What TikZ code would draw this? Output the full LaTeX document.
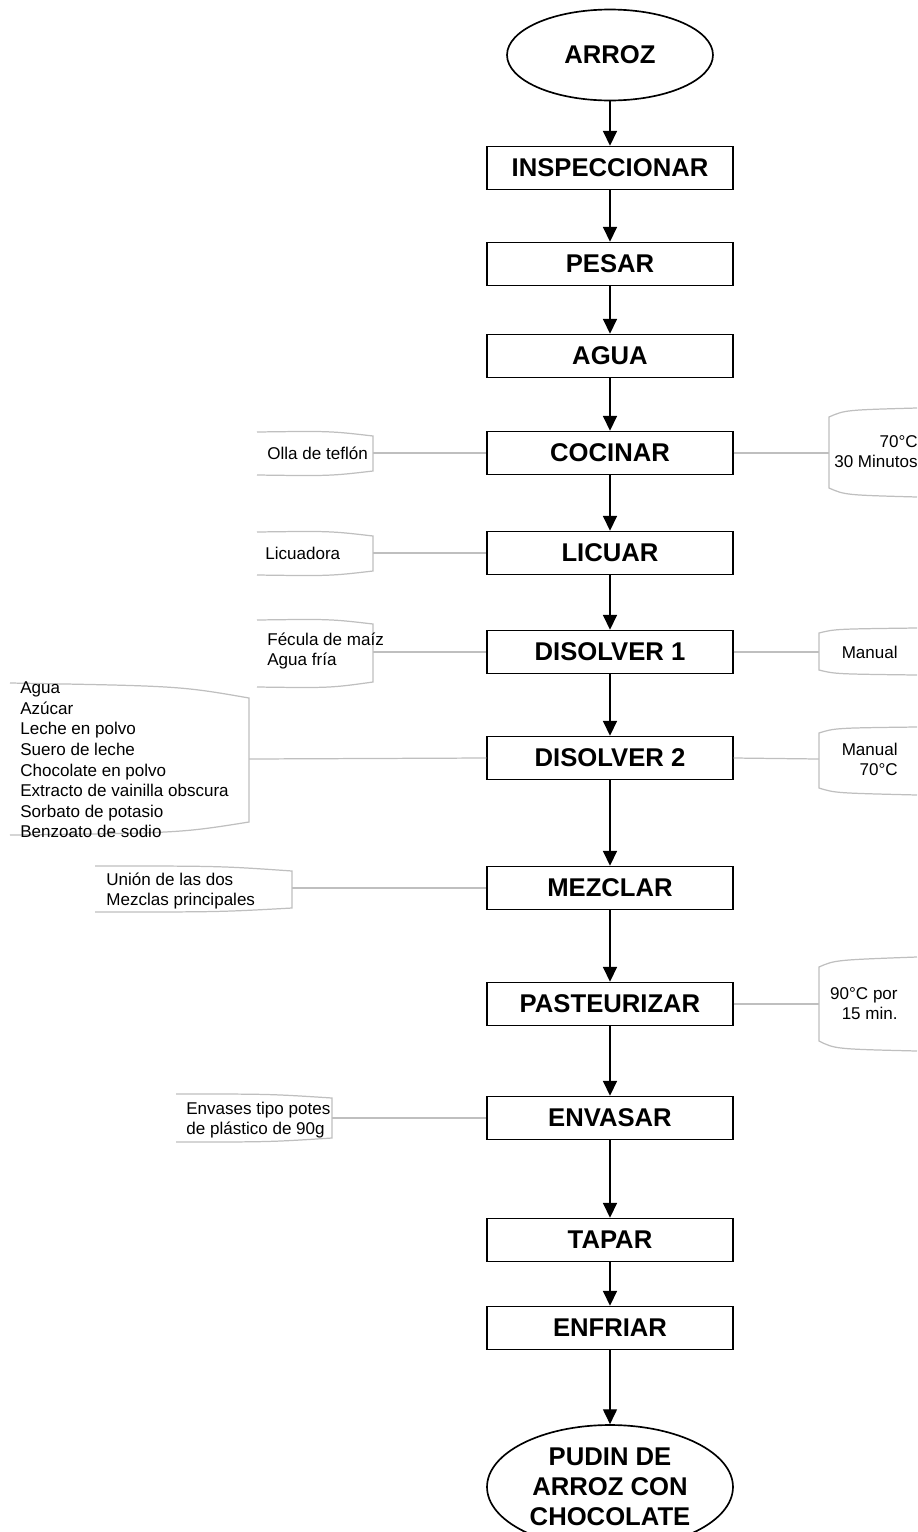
\documentclass[tikz,border=0pt]{standalone}
\usepackage{fontspec}
\setmainfont{Liberation Sans}
\usetikzlibrary{arrows.meta,shapes.geometric}
\definecolor{gristrazo}{HTML}{BFBFBF}

\begin{document}
\begin{tikzpicture}[x=0.02cm, y=-0.02cm,
  caja/.style={draw, line width=0.85pt, minimum width=4.92cm, minimum height=0.86cm,
    inner sep=0pt, font=\fontsize{14.6}{17}\selectfont\bfseries},
  ovalo/.style={draw, ellipse, line width=0.95pt, inner sep=0pt, align=center,
    font=\fontsize{14.6}{17}\selectfont\bfseries},
  flecha/.style={-{Triangle[length=8.5pt,width=8pt]}, line width=0.8pt},
  conector/.style={draw=gristrazo, line width=0.7pt},
  nota/.style={draw=gristrazo, line width=0.7pt},
  texto/.style={inner sep=0pt, align=left, font=\fontsize{9.7}{11.5}\selectfont}]
  \useasboundingbox (0,0) rectangle (917,1532);

  % Pasos del proceso
  \node[ovalo, minimum width=4.12cm, minimum height=1.82cm] (arroz) at (610,55) {ARROZ};
  \node[caja] (inspeccionar) at (610,168) {INSPECCIONAR};
  \node[caja] (pesar) at (610,264) {PESAR};
  \node[caja] (agua) at (610,356) {AGUA};
  \node[caja] (cocinar) at (610,453) {COCINAR};
  \node[caja] (licuar) at (610,553) {LICUAR};
  \node[caja] (disolveruno) at (610,652) {DISOLVER 1};
  \node[caja] (disolverdos) at (610,758) {DISOLVER 2};
  \node[caja] (mezclar) at (610,888) {MEZCLAR};
  \node[caja] (pasteurizar) at (610,1004) {PASTEURIZAR};
  \node[caja] (envasar) at (610,1118) {ENVASAR};
  \node[caja] (tapar) at (610,1240) {TAPAR};
  \node[caja] (enfriar) at (610,1328) {ENFRIAR};
  \node[ovalo, minimum width=4.92cm, minimum height=2.48cm] (pudin) at (610,1487)
    {PUDIN DE\\ARROZ CON\\CHOCOLATE};

  % Flechas
  \foreach \a/\b in {arroz/inspeccionar, inspeccionar/pesar, pesar/agua, agua/cocinar,
      cocinar/licuar, licuar/disolveruno, disolveruno/disolverdos, disolverdos/mezclar,
      mezclar/pasteurizar, pasteurizar/envasar, envasar/tapar, tapar/enfriar, enfriar/pudin}
    \draw[flecha] (\a) -- (\b);

  % Notas: Cocinar
  \draw[nota] (257,432) .. controls (330,431) .. (373,436) -- (373,471)
    .. controls (330,476) .. (257,475);
  \node[texto, anchor=west] (olla) at (267,453) {Olla de teflón};
  \coordinate (cOlla) at (373,453);
  \draw[conector] (cOlla) -- (cocinar.west);

  \draw[nota] (917,408) .. controls (845,410) .. (829,417) -- (829,488)
    .. controls (845,495) .. (917,497);
  \node[texto, anchor=east, align=right] (tiempo) at (918,452) {70°C\\30 Minutos};
  \coordinate (cTiempo) at (829,453);
  \draw[conector] (cocinar.east) -- (cTiempo);

  % Notas: Licuar
  \draw[nota] (257,532) .. controls (330,531) .. (373,536) -- (373,571)
    .. controls (330,576) .. (257,575);
  \node[texto, anchor=west] (licuadora) at (265,553) {Licuadora};
  \coordinate (cLicuadora) at (373,553);
  \draw[conector] (cLicuadora) -- (licuar.west);

  % Notas: Disolver 1
  \draw[nota] (257,620) .. controls (330,619) .. (373,624) -- (373,682)
    .. controls (330,688) .. (257,687);
  \node[texto, anchor=west] (fecula) at (267,651) {Fécula de maíz\\Agua fría};
  \coordinate (cFecula) at (373,652);
  \draw[conector] (cFecula) -- (disolveruno.west);

  \draw[nota] (917,628) .. controls (835,629) .. (819,633) -- (819,670)
    .. controls (835,674) .. (917,675);
  \node[texto, anchor=east] (manualuno) at (898,652) {Manual};
  \coordinate (cManualuno) at (819,652);
  \draw[conector] (disolveruno.east) -- (cManualuno);

  % Notas: Disolver 2
  \draw[nota] (10,683) .. controls (180,686) .. (249,698) -- (249,822)
    .. controls (180,833) .. (10,835);
  \node[texto, anchor=west, font=\fontsize{9.7}{11.7}\selectfont] (ingredientes) at (20,760)
    {Agua\\Azúcar\\Leche en polvo\\Suero de leche\\Chocolate en polvo\\
     Extracto de vainilla obscura\\Sorbato de potasio\\Benzoato de sodio};
  \coordinate (cIngredientes) at (249,759);
  \draw[conector] (cIngredientes) -- (disolverdos.west);

  \draw[nota] (917,727) .. controls (835,728) .. (819,733) -- (819,788)
    .. controls (835,793) .. (917,795);
  \node[texto, anchor=east, align=right] (manualdos) at (898,759) {Manual\\70°C};
  \coordinate (cManualdos) at (819,759);
  \draw[conector] (disolverdos.east) -- (cManualdos);

  % Notas: Mezclar
  \draw[nota] (95,866) .. controls (220,866) .. (292,871) -- (292,908)
    .. controls (220,912) .. (95,912);
  \node[texto, anchor=west] (union) at (106,891) {Unión de las dos\\Mezclas principales};
  \coordinate (cUnion) at (292,888);
  \draw[conector] (cUnion) -- (mezclar.west);

  % Notas: Pasteurizar
  \draw[nota] (917,957) .. controls (835,960) .. (819,967) -- (819,1041)
    .. controls (835,1049) .. (917,1051);
  \node[texto, anchor=east, align=right] (temperatura) at (898,1004) {90°C por\\15 min.};
  \coordinate (cTemperatura) at (819,1004);
  \draw[conector] (pasteurizar.east) -- (cTemperatura);

  % Notas: Envasar
  \draw[nota] (176,1094) .. controls (270,1094) .. (332,1098) -- (332,1138)
    .. controls (270,1142) .. (176,1142);
  \node[texto, anchor=west] (envases) at (186,1120) {Envases tipo potes\\de plástico de 90g};
  \coordinate (cEnvases) at (332,1118);
  \draw[conector] (cEnvases) -- (envasar.west);
\end{tikzpicture}
\end{document}
